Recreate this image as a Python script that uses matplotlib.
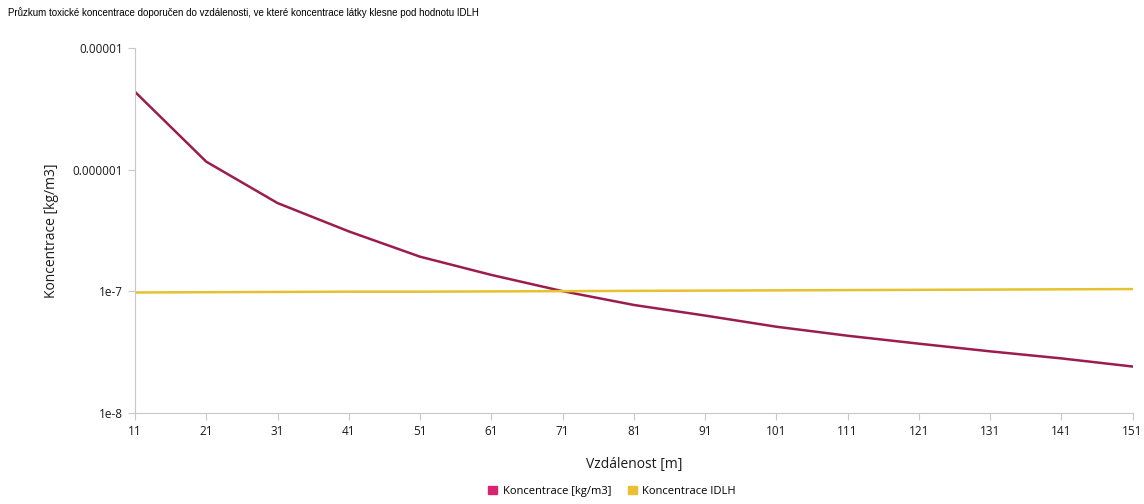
import matplotlib
matplotlib.use('Agg')
import matplotlib.pyplot as plt
from matplotlib.ticker import FixedLocator, FixedFormatter, NullLocator
from matplotlib.patches import Patch

vzdalenost = [11, 21, 31, 41, 51, 61, 71, 81, 91, 101, 111, 121, 131, 141, 151]
koncentrace = [4.35e-6, 1.16e-6, 5.3e-7, 3.1e-7, 1.92e-7, 1.36e-7, 1.0e-7, 7.7e-8,
               6.3e-8, 5.1e-8, 4.3e-8, 3.7e-8, 3.2e-8, 2.8e-8, 2.4e-8]
idlh = [0.975e-7, 0.98e-7, 0.985e-7, 0.99e-7, 0.99e-7, 0.995e-7, 1.0e-7, 1.005e-7,
        1.01e-7, 1.015e-7, 1.02e-7, 1.025e-7, 1.03e-7, 1.035e-7, 1.04e-7]
ytick_vals = [1e-8, 1e-7, 1e-6, 1e-5]
ytick_labels = ['1e-8', '1e-7', '0.000001', '0.00001']

red = '#9a1d4e'
yellow = '#e6c22e'

fig = plt.figure(figsize=(11.44, 5.04), dpi=100)
ax = fig.add_axes([0.118, 0.181, 0.872, 0.724])

ax.plot(vzdalenost, koncentrace, color=red, lw=1.8)
ax.plot(vzdalenost, idlh, color=yellow, lw=1.8)

ax.set_yscale('log')
ax.set_ylim(1e-8, 1e-5)
ax.set_xlim(11, 151)
ax.yaxis.set_major_locator(FixedLocator(ytick_vals))
ax.yaxis.set_major_formatter(FixedFormatter(ytick_labels))
ax.yaxis.set_minor_locator(NullLocator())
ax.set_xticks(vzdalenost)

for s in ['top', 'right']:
    ax.spines[s].set_visible(False)
for s in ['left', 'bottom']:
    ax.spines[s].set_color('#c8c8c8')
    ax.spines[s].set_linewidth(0.8)
ax.tick_params(axis='both', colors='#c8c8c8', length=5, width=0.8,
               labelcolor='#1a1a1a', labelsize=8.5)
for lab in ax.get_xticklabels() + ax.get_yticklabels():
    lab.set_family('Open Sans')

ax.set_xlabel('Vzdálenost [m]', family='Open Sans', fontsize=10, color='#1a1a1a', labelpad=14)
ax.set_ylabel('Koncentrace [kg/m3]', family='Open Sans', fontsize=10, color='#1a1a1a', labelpad=10)

fig.text(0.007, 0.975, 'Průzkum toxické koncentrace doporučen do vzdálenosti, ve které koncentrace látky klesne pod hodnotu IDLH',
         family='Liberation Sans', fontsize=7, color='#000000', va='center', ha='left')

handles = [Patch(color='#d6246e', label='Koncentrace [kg/m3]'),
           Patch(color='#e8c030', label='Koncentrace IDLH')]
fig.legend(handles=handles, loc='center', bbox_to_anchor=(0.535, 0.025), ncol=2, frameon=False,
           prop={'family': 'Open Sans', 'size': 8}, handlelength=0.8, handleheight=0.8,
           handletextpad=0.5, columnspacing=1.5)

fig.savefig('out.png', dpi=100)
